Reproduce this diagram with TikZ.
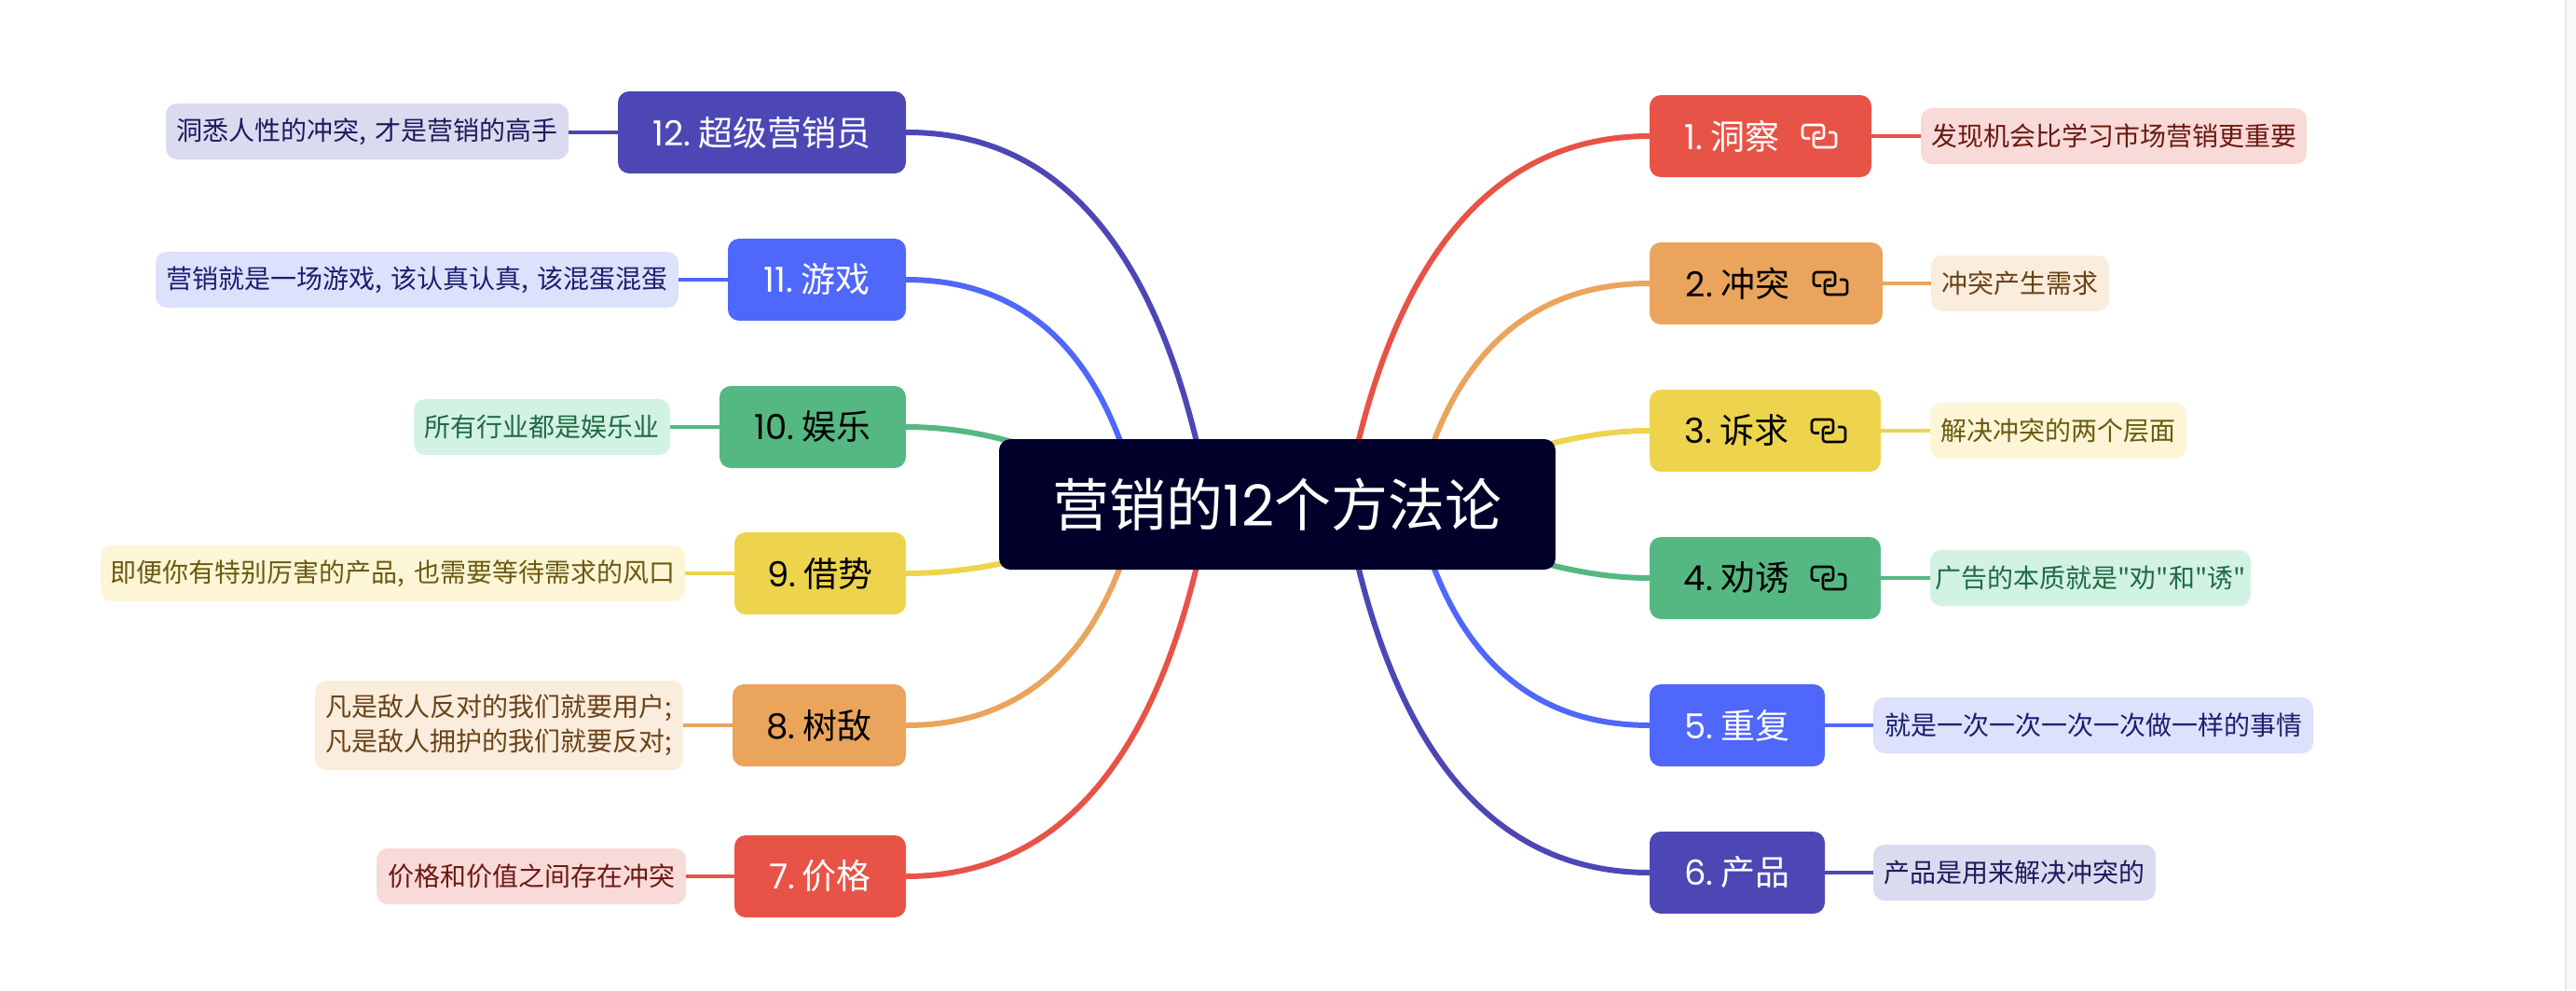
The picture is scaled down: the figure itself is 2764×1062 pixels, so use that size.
\documentclass[tikz,border=0pt]{standalone}
\usepackage{fontspec}
\newfontfamily\plain{Noto Sans CJK SC}
\newfontfamily\lat{Poppins}
\usetikzlibrary{backgrounds,calc}
\definecolor{cr}{HTML}{E85347}\definecolor{co}{HTML}{EAA45C}\definecolor{cy}{HTML}{EED44C}
\definecolor{cg}{HTML}{55B882}\definecolor{cb}{HTML}{4F67FA}\definecolor{cp}{HTML}{4D47B5}
\definecolor{sr}{HTML}{F8DAD8}\definecolor{so}{HTML}{FAEDDE}\definecolor{sy}{HTML}{FCF6D6}
\definecolor{sg}{HTML}{D2F2E3}\definecolor{sb}{HTML}{DDE1FC}\definecolor{sp}{HTML}{DBDBEF}
\definecolor{tr}{HTML}{6B1810}\definecolor{to}{HTML}{6B4216}\definecolor{ty}{HTML}{6B5A10}
\definecolor{tg}{HTML}{1F6B45}\definecolor{tb}{HTML}{1A1F70}\definecolor{tp}{HTML}{1D1A5E}
\definecolor{dark}{HTML}{00002A}\definecolor{barfill}{HTML}{F9F9F9}\definecolor{barline}{HTML}{E6E6E6}
\tikzset{
 x=0.5pt,y=-0.5pt,
 box/.style={anchor=north west,inner sep=0pt,outer sep=0pt,rounded corners=6pt,align=center},
 mainbox/.style args={#1/#2}{box,fill=#1,text=#2,font=\plain\fontsize{18.5}{22}\selectfont},
 subbox/.style args={#1/#2}{box,fill=#1,text=#2,font=\plain\fontsize{14}{18.5}\selectfont},
 branch/.style={draw=#1,line width=3pt},
 leaf/.style={draw=#1,line width=2.2pt},
 linkicon/.style={draw=#1,line width=1.3pt,rounded corners=1.5pt},
}
\newcommand{\mn}[8]{\node[mainbox=#6/#7,minimum width=#4*0.5pt,minimum height=#5*0.5pt,text width=#4*0.5pt] (#1) at (#2,#3) {#8};}
\newcommand{\sn}[8]{\node[subbox=#6/#7,minimum width=#4*0.5pt,minimum height=#5*0.5pt,text width=#4*0.5pt] (#1) at (#2,#3) {#8};}
\newcommand{\num}[1]{{\lat #1}\hspace{4pt}}
\newcommand{\lnk}[2]{%
 \begin{scope}[shift={($(#1.east)+(-74,-12)$)}]
 \draw[linkicon=#2] (8,14.5) -- (0,14.5) -- (0,0) -- (23,0) -- (23,14.5) -- (14,14.5);
 \draw[linkicon=#2] (28,8) -- (36,8) -- (36,24) -- (12,24) -- (12,8) -- (19,8);
 \end{scope}}
\begin{document}
\begin{tikzpicture}
\useasboundingbox (0,0) rectangle (2764,1062);
\fill[barfill] (2752,0) rectangle (2764,1062);
\draw[barline,line width=1pt] (2753,0) -- (2753,1062);
\node[box,fill=dark,text=white,font=\plain\fontsize{30.5}{34}\selectfont,minimum width=597*0.5pt,minimum height=140*0.5pt,text width=597*0.5pt] (c) at (1072,471) {营销的{\lat 12}个方法论};
\coordinate (ro1) at (1443,541);\coordinate (ro2) at (1518,541);\coordinate (ro3) at (1600,495);\coordinate (ro4) at (1600,587);
\coordinate (lo1) at (1298,541);\coordinate (lo2) at (1222,541);\coordinate (lo3) at (1150,497);\coordinate (lo4) at (1141,587);
\mn{n1}{1770}{102}{238}{88}{cr}{white}{\num{1.}洞察\hspace*{30.5pt}}
\mn{n2}{1770}{260}{250}{88}{co}{black}{\num{2.}冲突\hspace*{30.5pt}}
\mn{n3}{1770}{418}{248}{88}{cy}{black}{\num{3.}诉求\hspace*{30.5pt}}
\mn{n4}{1770}{576}{248}{88}{cg}{black}{\num{4.}劝诱\hspace*{30.5pt}}
\mn{n5}{1770}{734}{188}{88}{cb}{white}{\num{5.}重复}
\mn{n6}{1770}{892}{188}{88}{cp}{white}{\num{6.}产品}
\mn{n12}{663}{98}{309}{88}{cp}{white}{\num{12.}超级营销员}
\mn{n11}{781}{256}{191}{88}{cb}{white}{\num{11.}游戏}
\mn{n10}{772}{414}{200}{88}{cg}{black}{\num{10.}娱乐}
\mn{n9}{788}{571}{184}{88}{cy}{black}{\num{9.}借势}
\mn{n8}{786}{734}{186}{88}{co}{black}{\num{8.}树敌}
\mn{n7}{788}{896}{184}{88}{cr}{white}{\num{7.}价格}
\lnk{n1}{white}\lnk{n2}{black}\lnk{n3}{black}\lnk{n4}{black}
\sn{s1}{2061}{116}{414}{60}{sr}{tr}{发现机会比学习市场营销更重要}
\sn{s2}{2072}{274}{191}{60}{so}{to}{冲突产生需求}
\sn{s3}{2071}{432}{275}{60}{sy}{ty}{解决冲突的两个层面}
\sn{s4}{2071}{590}{344}{60}{sg}{tg}{广告的本质就是"劝"和"诱"}
\sn{s5}{2010}{748}{472}{60}{sb}{tb}{就是一次一次一次一次做一样的事情}
\sn{s6}{2010}{906}{303}{60}{sp}{tp}{产品是用来解决冲突的}
\sn{s12}{178}{111}{432}{60}{sp}{tp}{洞悉人性的冲突, 才是营销的高手}
\sn{s11}{167}{270}{561}{60}{sb}{tb}{营销就是一场游戏, 该认真认真, 该混蛋混蛋}
\sn{s10}{444}{428}{275}{60}{sg}{tg}{所有行业都是娱乐业}
\sn{s9}{108}{585}{627}{60}{sy}{ty}{即便你有特别厉害的产品, 也需要等待需求的风口}
\sn{s8}{338}{730}{395}{96}{so}{to}{凡是敌人反对的我们就要用户;\\凡是敌人拥护的我们就要反对;}
\sn{s7}{404}{910}{332}{60}{sr}{tr}{价格和价值之间存在冲突}
\begin{scope}[on background layer]
\draw[branch=cr] (ro1) .. controls (1480,340) and (1565,146) .. (n1.west);
\draw[branch=co] (ro2) .. controls (1546,420) and (1612,304) .. (n2.west);
\draw[branch=cy] (ro3) .. controls (1640,482) and (1700,462) .. (n3.west);
\draw[branch=cg] (ro4) .. controls (1640,600) and (1700,620) .. (n4.west);
\draw[branch=cb] (ro2) .. controls (1546,662) and (1612,778) .. (n5.west);
\draw[branch=cp] (ro1) .. controls (1480,742) and (1565,936) .. (n6.west);
\draw[branch=cp] (lo1) .. controls (1261,337) and (1177,141) .. (n12.east);
\draw[branch=cb] (lo2) .. controls (1194,418) and (1129,300) .. (n11.east);
\draw[branch=cg] (lo3) .. controls (1110,480) and (1050,458) .. (n10.east);
\draw[branch=cy] (lo4) .. controls (1100,600) and (1041,615) .. (n9.east);
\draw[branch=co] (lo2) .. controls (1194,662) and (1129,778) .. (n8.east);
\draw[branch=cr] (lo1) .. controls (1261,745) and (1177,940) .. (n7.east);
\end{scope}
\foreach \m/\k in {1/cr,2/co,3/cy,4/cg,5/cb,6/cp}{\draw[leaf=\k] (n\m.east) -- (n\m.east -| s\m.west);}
\foreach \m/\k in {12/cp,11/cb,10/cg,9/cy,8/co,7/cr}{\draw[leaf=\k] (n\m.west) -- (n\m.west -| s\m.east);}
\end{tikzpicture}
\end{document}
